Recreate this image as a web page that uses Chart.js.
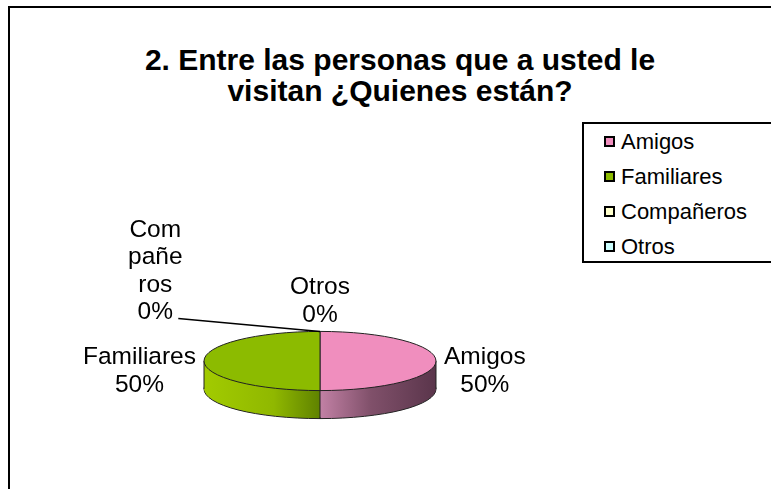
<!DOCTYPE html>
<html>
<head>
<meta charset="utf-8">
<script src="https://cdn.jsdelivr.net/npm/chart.js@4.4.1/dist/chart.umd.min.js"></script>
<style>
  html, body { margin: 0; padding: 0; background: #fff; overflow: hidden; }
  #wrap { position: relative; width: 771px; height: 489px; font-family: "Liberation Sans", Arial, sans-serif; color: #000; }
  #frame { position: absolute; left: 8px; top: 6px; width: 820px; height: 540px; border: 2px solid #000; box-sizing: border-box; }
  #title { position: absolute; left: 0; top: 44px; width: 800px; text-align: center; font-weight: bold; font-size: 30px; line-height: 31px; }
  #legend { position: absolute; left: 582px; top: 122px; width: 220px; height: 141px; border: 2px solid #000; box-sizing: border-box; background: #fff; }
  .row { display: flex; align-items: center; height: 35px; padding-left: 20px; font-size: 22px; }
  .box { width: 7px; height: 7px; border: 2px solid #000; margin-right: 6px; }
  canvas { position: absolute; left: 0; top: 0; }
</style>
</head>
<body>
<div id="wrap">
  <div id="frame"></div>
  <div id="title">2. Entre las personas que a usted le<br>visitan ¿Quienes están?</div>
  <canvas id="chart" width="771" height="489"></canvas>
  <div id="legend"></div>
</div>
<script>
// datos
const categories = ["Amigos", "Familiares", "Compañeros", "Otros"];
const shares = [50, 50, 0, 0];
const sliceColors = ["#f08ebe", "#8cbb00", "#ffffcc", "#ccffff"];

// aspecto 3D
const TILT = 0.255;
const DEPTH = 28;
// gradientes de los lados (de izquierda a derecha del pastel)
const sideStops = [
  [[0.5, "#c281a5"], [0.72, "#80506a"], [1, "#5a354b"]],
  [[0, "#a2cb00"], [0.3, "#90b800"], [0.5, "#5f8200"]],
  [[0, "#d8d8a8"], [1, "#a0a070"]],
  [[0, "#a8d8d8"], [1, "#70a0a0"]]
];

// leyenda
const legend = document.getElementById("legend");
categories.forEach((name, i) => {
  const row = document.createElement("div");
  row.className = "row";
  const box = document.createElement("span");
  box.className = "box";
  box.style.background = sliceColors[i];
  row.appendChild(box);
  row.appendChild(document.createTextNode(name));
  legend.appendChild(row);
});

const pie3d = {
  id: "pie3d",
  beforeDatasetsDraw(chart) {
    const ctx = chart.ctx;
    const arcs = chart.getDatasetMeta(0).data;
    const cx = arcs[0].x, cy = arcs[0].y, r = arcs[0].outerRadius;
    const ry = r * TILT;
    ctx.save();
    ctx.translate(cx, cy);
    ctx.scale(1, TILT);
    ctx.translate(-cx, -cy);
    // trazos sin deformar
    const stroke = CanvasRenderingContext2D.prototype.stroke;
    ctx.stroke = function () {
      ctx.save();
      ctx.setTransform(1, 0, 0, 1, 0, 0);
      stroke.call(ctx);
      ctx.restore();
    };
    const fills = sideStops.map((stops) => {
      const g = ctx.createLinearGradient(cx - r, 0, cx + r, 0);
      stops.forEach(([p, c]) => g.addColorStop(p, c));
      return g;
    });
    for (let d = DEPTH; d >= 1; d--) {
      ctx.save();
      ctx.translate(0, d / TILT);
      arcs.forEach((arc, i) => {
        const o = arc.options;
        arc.options = Object.assign({}, o, {
          backgroundColor: fills[i],
          borderWidth: d === DEPTH ? 1 : 0,
        });
        arc.draw(ctx);
        arc.options = o;
      });
      ctx.restore();
    }
    // aristas verticales del lado frontal
    const edges = [0, Math.PI];
    arcs.forEach((arc) => {
      const s = Math.sin(arc.startAngle);
      if (s > 0.01) edges.push(arc.startAngle);
    });
    ctx.save();
    ctx.setTransform(1, 0, 0, 1, 0, 0);
    ctx.strokeStyle = "#222";
    ctx.lineWidth = 1;
    ctx.beginPath();
    edges.forEach((ang) => {
      const x = cx + r * Math.cos(ang);
      const y = cy + ry * Math.sin(ang);
      ctx.moveTo(x, y);
      ctx.lineTo(x, y + DEPTH);
    });
    stroke.call(ctx);
    ctx.restore();
  },
  afterDatasetsDraw(chart) {
    delete chart.ctx.stroke;
    chart.ctx.restore();
  },
};

function wrapWord(ctx, word, maxW) {
  const out = [];
  let cur = "";
  for (const ch of word) {
    if (cur && ctx.measureText(cur + ch).width > maxW) {
      out.push(cur);
      cur = ch;
    } else {
      cur += ch;
    }
  }
  if (cur) out.push(cur);
  return out;
}

const pieLabels = {
  id: "pieLabels",
  afterDraw(chart) {
    const ctx = chart.ctx;
    const arcs = chart.getDatasetMeta(0).data;
    const cx = arcs[0].x, cy = arcs[0].y, r = arcs[0].outerRadius;
    const ry = r * TILT;
    const total = shares.reduce((a, b) => a + b, 0);
    const lh = 27.5;
    ctx.save();
    ctx.font = '24.5px "Liberation Sans", Arial, sans-serif';
    ctx.fillStyle = "#000";
    ctx.strokeStyle = "#000";
    ctx.textAlign = "center";
    ctx.textBaseline = "middle";
    const placed = [];
    for (let i = arcs.length - 1; i >= 0; i--) {
      const arc = arcs[i];
      const a = (arc.startAngle + arc.endAngle) / 2;
      const ex = cx + r * Math.cos(a);
      const ey = cy + ry * Math.sin(a);
      const pct = Math.round((shares[i] / total) * 100) + "%";
      let lines = [categories[i], pct];
      let w = Math.max(...lines.map((t) => ctx.measureText(t).width));
      let lx = ex + Math.cos(a) * (8 + w / 2);
      let ly = ey + Math.sin(a) * 30 + 10 * (1 + Math.sin(a));
      const box = { x0: lx - w / 2, x1: lx + w / 2, y0: ly - lh, y1: ly + lh };
      const hit = placed.some((b) => !(box.x1 < b.x0 || box.x0 > b.x1 || box.y1 < b.y0 || box.y0 > b.y1));
      let leader = null;
      if (hit) {
        // etiqueta desplazada con línea guía
        lines = wrapWord(ctx, categories[i], 56).concat([pct]);
        lx = ex - r * 1.42;
        const lastY = ey - 19;
        ly = lastY - ((lines.length - 1) * lh) / 2;
        leader = [lx + 23, lastY + 6, ex, ey];
      }
      const n = lines.length;
      lines.forEach((t, j) => ctx.fillText(t, lx, ly + (j - (n - 1) / 2) * lh));
      if (leader) {
        ctx.lineWidth = 1.5;
        ctx.beginPath();
        ctx.moveTo(leader[0], leader[1]);
        ctx.lineTo(leader[2], leader[3]);
        ctx.stroke();
      }
      w = Math.max(...lines.map((t) => ctx.measureText(t).width));
      placed.push({ x0: lx - w / 2, x1: lx + w / 2, y0: ly - (n * lh) / 2, y1: ly + (n * lh) / 2 });
    }
    ctx.restore();
  },
};

new Chart(document.getElementById("chart"), {
  type: "pie",
  data: {
    labels: categories,
    datasets: [
      {
        data: shares,
        backgroundColor: sliceColors,
        borderColor: "#222",
        borderWidth: 1,
        radius: 116,
        hoverOffset: 0,
      },
    ],
  },
  options: {
    responsive: false,
    animation: false,
    events: [],
    layout: { padding: { left: 0, right: 131, top: 233, bottom: 0 } },
    plugins: {
      legend: { display: false },
      title: { display: false },
      tooltip: { enabled: false },
    },
  },
  plugins: [pie3d, pieLabels],
});
</script>
</body>
</html>
